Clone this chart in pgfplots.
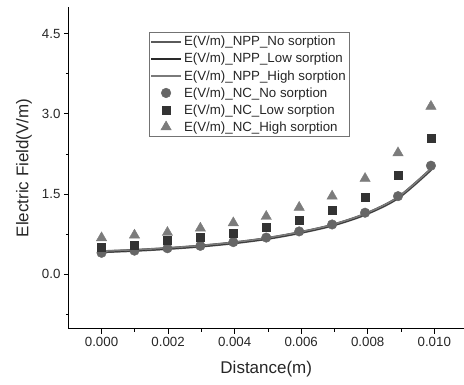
\documentclass[border=0pt]{standalone}
\usepackage{fontspec}
\setmainfont{Liberation Sans}
\usepackage{pgfplots}
\pgfplotsset{compat=1.18}
\definecolor{cA}{HTML}{5A5A5A}
\definecolor{cB}{HTML}{2A2A2A}
\definecolor{cC}{HTML}{7A7A7A}
\definecolor{mA}{HTML}{666666}
\definecolor{mB}{HTML}{333333}
\definecolor{mC}{HTML}{7C7C7C}
\pgfplotsset{
  lineleg/.style={legend image code/.code={\draw[##1, line width=2pt] (0pt,0pt) -- (30pt,0pt);}},
  markleg/.style={legend image code/.code={\draw[##1] plot coordinates {(15pt,0pt)};}},
}
\begin{document}
\begin{tikzpicture}
\begin{axis}[
  width=395pt, height=322pt, scale only axis,
  xmin=-0.00098, xmax=0.01088, ymin=-1.02, ymax=5.0,
  axis x line*=bottom, axis y line*=left,
  axis line style={line width=0.9pt, black},
  tick align=outside,
  xtick={0,0.002,0.004,0.006,0.008,0.010},
  minor xtick={0.001,0.003,0.005,0.007,0.009},
  ytick={0,1.5,3.0,4.5},
  minor ytick={-0.75,0.75,2.25,3.75},
  major tick length=5pt, minor tick length=3pt,
  every tick/.style={black, line width=0.8pt},
  /pgf/number format/assume math mode=true,
  xticklabel style={/pgf/number format/.cd, fixed, fixed zerofill, precision=3},
  yticklabel style={/pgf/number format/.cd, fixed, fixed zerofill, precision=1},
  scaled x ticks=false,
  tick label style={font=\fontsize{13.3}{15}\selectfont, text=black!85},
  xlabel={Distance(m)}, ylabel={Electric Field(V/m)},
  label style={font=\fontsize{17}{20}\selectfont, text=black!85},
  xlabel style={at={(axis description cs:0.5,-0.127)}, anchor=center},
  ylabel style={at={(axis description cs:-0.114,0.5)}, anchor=center},
  legend style={at={(0.2025,0.922)}, anchor=north west, draw=black!55, line width=0.5pt,
    font=\fontsize{13.3}{15}\selectfont, text=black!85, row sep=1.9pt, inner xsep=1pt, inner ysep=2pt},
  legend cell align=left,
  clip=false,
]
% lines
\addplot[cA, line width=3pt, smooth, lineleg] coordinates {
 (0,0.42) (0.00099,0.445) (0.00198,0.48) (0.00297,0.525) (0.00396,0.585) (0.00495,0.665) (0.00594,0.775) (0.00693,0.915) (0.00792,1.12) (0.00891,1.43) (0.0099,1.96)};
\addlegendentry{E(V/m)\_NPP\_No sorption}
\addplot[cB, line width=1.8pt, smooth, lineleg] coordinates {
 (0,0.42) (0.00099,0.445) (0.00198,0.48) (0.00297,0.525) (0.00396,0.585) (0.00495,0.665) (0.00594,0.775) (0.00693,0.915) (0.00792,1.12) (0.00891,1.43) (0.0099,1.96)};
\addlegendentry{E(V/m)\_NPP\_Low sorption}
\addplot[cC, line width=1.6pt, smooth, lineleg] coordinates {
 (0,0.43) (0.00099,0.455) (0.00198,0.49) (0.00297,0.535) (0.00396,0.595) (0.00495,0.675) (0.00594,0.785) (0.00693,0.925) (0.00792,1.13) (0.00891,1.44) (0.0099,1.97)};
\addlegendentry{E(V/m)\_NPP\_High sorption}
% marks
\addplot[only marks, mark=*, mark size=4.8pt, mA, mark options={draw=mA, fill=mA}, markleg] coordinates {
 (0,0.40) (0.00099,0.44) (0.00198,0.485) (0.00297,0.53) (0.00396,0.60) (0.00495,0.685) (0.00594,0.80) (0.00693,0.93) (0.00792,1.15) (0.00891,1.46) (0.0099,2.03)};
\addlegendentry{E(V/m)\_NC\_No sorption}
\addplot[only marks, mark=square*, mark size=4pt, mB, mark options={draw=mB, fill=mB}, markleg] coordinates {
 (0,0.50) (0.00099,0.55) (0.00198,0.63) (0.00297,0.69) (0.00396,0.765) (0.00495,0.87) (0.00594,1.01) (0.00693,1.19) (0.00792,1.44) (0.00891,1.85) (0.0099,2.55)};
\addlegendentry{E(V/m)\_NC\_Low sorption}
\addplot[only marks, mark=triangle*, mark size=6pt, mC, mark options={draw=mC, fill=mC}, markleg] coordinates {
 (0,0.68) (0.00099,0.73) (0.00198,0.78) (0.00297,0.86) (0.00396,0.96) (0.00495,1.08) (0.00594,1.25) (0.00693,1.46) (0.00792,1.79) (0.00891,2.27) (0.0099,3.14)};
\addlegendentry{E(V/m)\_NC\_High sorption}
\path (rel axis cs:0,0) ++(-69pt,-56pt);
\path (rel axis cs:1,1) ++(0pt,7pt);
\end{axis}
\end{tikzpicture}
\end{document}
